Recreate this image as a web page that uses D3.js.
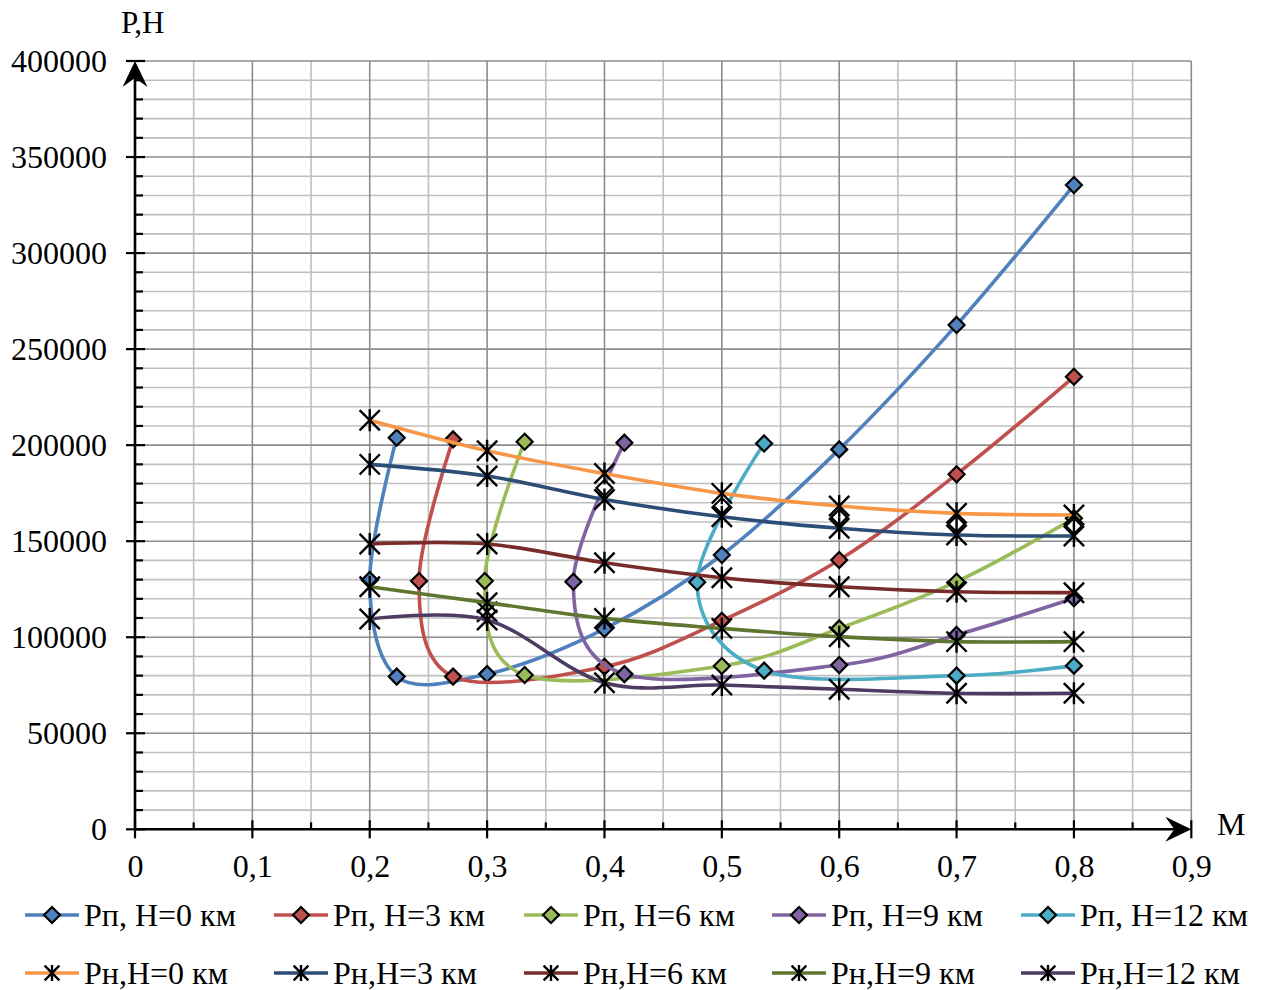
<!DOCTYPE html>
<html>
<head>
<meta charset="utf-8">
<script src="https://cdn.jsdelivr.net/npm/d3@7"></script>
<style>
  body { margin: 0; background: #fff; }
  svg { display: block; }
  text { font-family: "Liberation Serif", "Times New Roman", serif; fill: #000; }
</style>
</head>
<body>
<div id="chart"></div>
<script>
// Рп curves (M, P)
const machPp0 = [0.223, 0.2, 0.223, 0.3, 0.4, 0.5, 0.6, 0.7, 0.8];
const valPp0  = [203900, 129800, 79500, 80800, 104300, 142800, 197800, 262600, 335400];
const machPp3 = [0.271, 0.242, 0.271, 0.4, 0.5, 0.6, 0.7, 0.8];
const valPp3  = [203000, 129300, 79500, 84600, 108600, 140200, 184800, 235600];
const machPp6 = [0.332, 0.298, 0.332, 0.5, 0.6, 0.7, 0.8];
const valPp6  = [201800, 129300, 80300, 85000, 104600, 128900, 161900];
const machPp9 = [0.417, 0.3735, 0.417, 0.6, 0.7, 0.8];
const valPp9  = [201300, 128900, 80800, 85500, 101200, 120300];
const machPp12 = [0.536, 0.479, 0.536, 0.7, 0.8];
const valPp12  = [200900, 128600, 82600, 80000, 85200];

// Рн curves
const machPn = [0.2, 0.3, 0.4, 0.5, 0.6, 0.7, 0.8];
const valPn0  = [213000, 197100, 185200, 174900, 168300, 164500, 163600];
const valPn3  = [190000, 183900, 171700, 162700, 156700, 153200, 152700];
const valPn6  = [148500, 148500, 138800, 131000, 126300, 123700, 123200];
const valPn9  = [126300, 118000, 109800, 104600, 100300, 97700, 97700];
const valPn12 = [109500, 109000, 76300, 75100, 72900, 70800, 70800];

// unlabeled points without line
const machHidden = [0.4, 0.5, 0.6, 0.7, 0.8];
const valHidden  = [177700, 168300, 162400, 158900, 157900];
const machExtraStar = [0.3];
const valExtraStar  = [113300];

const xTicks = [0, 0.1, 0.2, 0.3, 0.4, 0.5, 0.6, 0.7, 0.8, 0.9];
const yTicks = [0, 50000, 100000, 150000, 200000, 250000, 300000, 350000, 400000];

const seriesPp = [
  { name: "Рп, H=0 км",  color: "#4F81BD", m: machPp0,  v: valPp0 },
  { name: "Рп, H=3 км",  color: "#C0504D", m: machPp3,  v: valPp3 },
  { name: "Рп, H=6 км",  color: "#9BBB59", m: machPp6,  v: valPp6 },
  { name: "Рп, H=9 км",  color: "#8064A2", m: machPp9,  v: valPp9 },
  { name: "Рп, H=12 км", color: "#4BACC6", m: machPp12, v: valPp12 }
];
const seriesPn = [
  { name: "Рн,H=0 км",  color: "#F79646", m: machPn, v: valPn0 },
  { name: "Рн,H=3 км",  color: "#2C4D75", m: machPn, v: valPn3 },
  { name: "Рн,H=6 км",  color: "#772C2A", m: machPn, v: valPn6 },
  { name: "Рн,H=9 км",  color: "#5F7530", m: machPn, v: valPn9 },
  { name: "Рн,H=12 км", color: "#4D3B62", m: machPn, v: valPn12 }
];

const width = 1263, height = 990;
const svg = d3.select("#chart").append("svg")
  .attr("width", width)
  .attr("height", height);

const x = d3.scaleLinear().domain([0, 0.9]).range([135, 1191.3]);
const y = d3.scaleLinear().domain([0, 400000]).range([829.3, 61]);

// grid
const hMinor = d3.range(10000, 400001, 10000).filter(d => d % 50000 !== 0);
const hMajor = d3.range(50000, 400001, 50000);
const vAll = d3.range(1, 19).map(i => +(i * 0.05).toFixed(2));
const vMinor = vAll.filter((d, i) => i % 2 === 0);
const vMajor = vAll.filter((d, i) => i % 2 === 1);

const grid = svg.append("g");
grid.selectAll(".hmin").data(hMinor).enter().append("line")
  .attr("x1", x(0)).attr("x2", x(0.9))
  .attr("y1", d => y(d)).attr("y2", d => y(d))
  .attr("stroke", "#BFBFBF").attr("stroke-width", 1.6);
grid.selectAll(".vmin").data(vMinor).enter().append("line")
  .attr("x1", d => x(d)).attr("x2", d => x(d))
  .attr("y1", y(0)).attr("y2", y(400000))
  .attr("stroke", "#BFBFBF").attr("stroke-width", 1.6);
grid.selectAll(".hmaj").data(hMajor).enter().append("line")
  .attr("x1", x(0)).attr("x2", x(0.9))
  .attr("y1", d => y(d)).attr("y2", d => y(d))
  .attr("stroke", "#8C8C8C").attr("stroke-width", 1.6);
grid.selectAll(".vmaj").data(vMajor).enter().append("line")
  .attr("x1", d => x(d)).attr("x2", d => x(d))
  .attr("y1", y(0)).attr("y2", y(400000))
  .attr("stroke", "#8C8C8C").attr("stroke-width", 1.6);

// axes
const axes = svg.append("g");
axes.append("line")
  .attr("x1", x(0)).attr("x2", x(0)).attr("y1", y(0)).attr("y2", y(400000) + 8)
  .attr("stroke", "#000").attr("stroke-width", 2.6);
axes.append("line")
  .attr("x1", x(0)).attr("x2", x(0.9) - 8).attr("y1", y(0)).attr("y2", y(0))
  .attr("stroke", "#000").attr("stroke-width", 2.6);

// arrow heads
const ty = y(400000), tx = x(0.9);
axes.append("path")
  .attr("d", `M${x(0)},${ty} L${x(0) + 12.5},${ty + 26} L${x(0)},${ty + 17} L${x(0) - 12.5},${ty + 26} Z`)
  .attr("fill", "#000");
axes.append("path")
  .attr("d", `M${tx},${y(0)} L${tx - 26},${y(0) - 12.5} L${tx - 17},${y(0)} L${tx - 26},${y(0) + 12.5} Z`)
  .attr("fill", "#000");

// y ticks
axes.selectAll(".ytmaj").data(yTicks).enter().append("line")
  .attr("x1", x(0) - 9).attr("x2", x(0) + 10)
  .attr("y1", d => y(d)).attr("y2", d => y(d))
  .attr("stroke", "#000").attr("stroke-width", 2.2);
axes.selectAll(".ytmin").data(hMinor).enter().append("line")
  .attr("x1", x(0)).attr("x2", x(0) + 8)
  .attr("y1", d => y(d)).attr("y2", d => y(d))
  .attr("stroke", "#000").attr("stroke-width", 2.2);
// x ticks
axes.selectAll(".xtmaj").data(xTicks).enter().append("line")
  .attr("x1", d => x(d)).attr("x2", d => x(d))
  .attr("y1", y(0) - 9).attr("y2", y(0) + 9)
  .attr("stroke", "#000").attr("stroke-width", 2.2);
axes.selectAll(".xtmin").data(vMinor).enter().append("line")
  .attr("x1", d => x(d)).attr("x2", d => x(d))
  .attr("y1", y(0) - 7).attr("y2", y(0))
  .attr("stroke", "#000").attr("stroke-width", 2.2);

// tick labels via d3 axes
const yAxis = svg.append("g").attr("transform", `translate(${x(0)},0)`)
  .call(d3.axisLeft(y).tickValues(yTicks).tickSize(0).tickPadding(28).tickFormat(d3.format("d")));
const xAxis = svg.append("g").attr("transform", `translate(0,${y(0)})`)
  .call(d3.axisBottom(x).tickValues(xTicks).tickSize(0).tickPadding(25)
    .tickFormat(d => String(d).replace(".", ",")));
[yAxis, xAxis].forEach(g => {
  g.select(".domain").remove();
  g.selectAll("text").style("font-family", '"Liberation Serif", "Times New Roman", serif')
    .style("font-size", "32px").attr("fill", "#000");
});

// axis titles
svg.append("text").attr("x", 121).attr("y", 33).style("font-size", "31px").text("Р,Н");
svg.append("text").attr("x", 1217).attr("y", 835).style("font-size", "32px").text("M");

// series
const line = d3.line()
  .x(d => x(d[0])).y(d => y(d[1]))
  .curve(d3.curveCardinal.tension(0));

function diamond(g, cx, cy, fill, r) {
  g.append("path")
    .attr("d", `M${cx},${cy - r} L${cx + r},${cy} L${cx},${cy + r} L${cx - r},${cy} Z`)
    .attr("fill", fill).attr("stroke", "#000").attr("stroke-width", 2.2);
}
function star(g, cx, cy, r) {
  const d = r * 0.92;
  g.append("path")
    .attr("d", `M${cx},${cy - r} L${cx},${cy + r} M${cx - d},${cy - d} L${cx + d},${cy + d} M${cx - d},${cy + d} L${cx + d},${cy - d}`)
    .attr("fill", "none").attr("stroke", "#000").attr("stroke-width", 2.4);
}

const plot = svg.append("g");
seriesPp.forEach(s => {
  const pts = s.m.map((m, i) => [m, s.v[i]]);
  const g = plot.append("g");
  g.append("path").attr("d", line(pts)).attr("fill", "none")
    .attr("stroke", s.color).attr("stroke-width", 3.6);
  pts.forEach(p => diamond(g, x(p[0]), y(p[1]), s.color, 8));
});

const hid = plot.append("g");
machHidden.forEach((m, i) => diamond(hid, x(m), y(valHidden[i]), "#fff", 8));
machExtraStar.forEach((m, i) => star(hid, x(m), y(valExtraStar[i]), 11));

seriesPn.forEach(s => {
  const pts = s.m.map((m, i) => [m, s.v[i]]);
  const g = plot.append("g");
  g.append("path").attr("d", line(pts)).attr("fill", "none")
    .attr("stroke", s.color).attr("stroke-width", 3.6);
  pts.forEach(p => star(g, x(p[0]), y(p[1]), 11));
});

// legend
const legX = [25, 274, 524, 772, 1021];
const legend = svg.append("g");
[[seriesPp, 915, "d"], [seriesPn, 973, "s"]].forEach(([list, ly, mk]) => {
  list.forEach((s, i) => {
    const lx = legX[i];
    const g = legend.append("g");
    g.append("line").attr("x1", lx).attr("x2", lx + 54).attr("y1", ly).attr("y2", ly)
      .attr("stroke", s.color).attr("stroke-width", 3.6);
    if (mk === "d") diamond(g, lx + 27, ly, s.color, 8);
    else star(g, lx + 27, ly, 8);
    g.append("text").attr("x", lx + 59).attr("y", ly + 11)
      .style("font-size", "32px").text(s.name);
  });
});
</script>
</body>
</html>
